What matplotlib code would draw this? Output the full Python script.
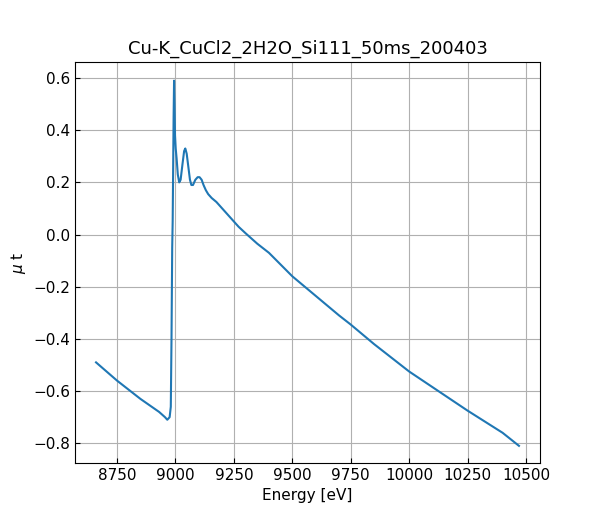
import numpy as np
import matplotlib
matplotlib.use("Agg")
import matplotlib.pyplot as plt

energy = [8660, 8750, 8850, 8930, 8955, 8965, 8975, 8980, 8983, 8986, 8988, 8990, 8992, 8994, 8996, 8998, 9001, 9005, 9010, 9016, 9022, 9030, 9037, 9042, 9048, 9055, 9062, 9068, 9075, 9085, 9095, 9103, 9112, 9120, 9130, 9140, 9155, 9175, 9200, 9215, 9235, 9270, 9300, 9350, 9400, 9450, 9500, 9600, 9700, 9750, 9850, 10000, 10100, 10250, 10400, 10470]
mu = [-0.49, -0.56, -0.63, -0.68, -0.70, -0.71, -0.70, -0.66, -0.40, -0.05, 0.05, 0.25, 0.45, 0.59, 0.50, 0.38, 0.33, 0.29, 0.23, 0.20, 0.21, 0.27, 0.32, 0.33, 0.31, 0.26, 0.21, 0.19, 0.19, 0.21, 0.22, 0.22, 0.21, 0.19, 0.17, 0.155, 0.14, 0.125, 0.10, 0.085, 0.065, 0.03, 0.005, -0.035, -0.07, -0.115, -0.16, -0.235, -0.31, -0.345, -0.42, -0.525, -0.585, -0.675, -0.76, -0.81]

fig, ax = plt.subplots(figsize=(6, 5.2), dpi=100)
ax.plot(energy, mu, color='#1f77b4', lw=1.5)
ax.set_title("Cu-K_CuCl2_2H2O_Si111_50ms_200403", fontsize=13)
ax.set_xlabel("Energy [eV]", fontsize=11)
ax.set_ylabel(r"$\mu$ t", fontsize=11)
ax.set_xticks([8750, 9000, 9250, 9500, 9750, 10000, 10250, 10500])
ax.set_yticks(np.arange(-0.8, 0.61, 0.2))
ax.set_xlim(8570, 10560)
ax.set_ylim(-0.875, 0.66)
ax.tick_params(direction='in', labelsize=11)
ax.grid(True, color='#b0b0b0')
fig.subplots_adjust(left=0.125, right=0.9, bottom=0.11, top=0.88)
fig.savefig("out.png")
